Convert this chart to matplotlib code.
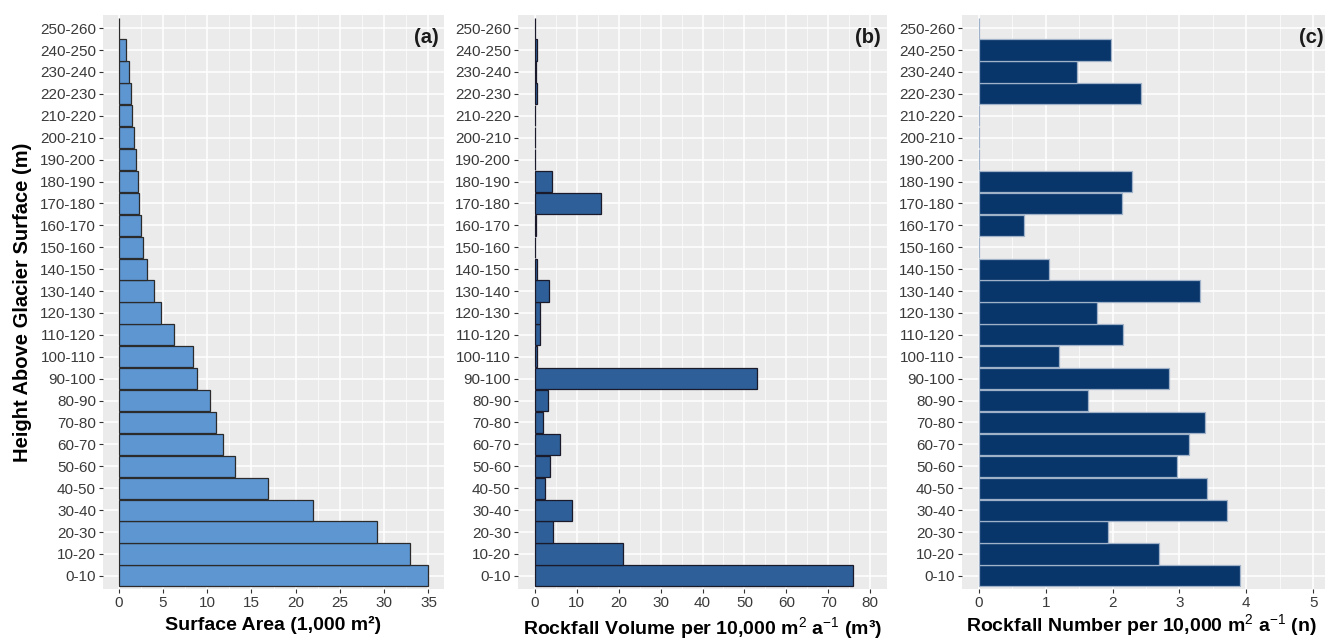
import matplotlib
matplotlib.use("Agg")
import matplotlib.pyplot as plt
import numpy as np
from matplotlib.ticker import MultipleLocator

plt.rcParams['font.family'] = ['Liberation Sans', 'DejaVu Sans']
plt.rcParams['mathtext.fontset'] = 'custom'
plt.rcParams['mathtext.rm'] = 'Liberation Sans'
plt.rcParams['mathtext.it'] = 'Liberation Sans'
plt.rcParams['mathtext.bf'] = 'Liberation Sans:bold'

# height bands above glacier surface (m), bottom to top
bands = ["0-10", "10-20", "20-30", "30-40", "40-50", "50-60", "60-70", "70-80",
         "80-90", "90-100", "100-110", "110-120", "120-130", "130-140", "140-150",
         "150-160", "160-170", "170-180", "180-190", "190-200", "200-210",
         "210-220", "220-230", "230-240", "240-250", "250-260"]

# (a) surface area, 1,000 m2
surface_area = [34.9, 32.95, 29.2, 22.0, 16.9, 13.1, 11.8, 11.0, 10.35, 8.9, 8.4,
                6.25, 4.8, 4.05, 3.2, 2.75, 2.5, 2.3, 2.2, 1.95, 1.75, 1.55, 1.4,
                1.15, 0.87, 0.05]

# (b) rockfall volume per 10,000 m2 a-1 (m3)
rockfall_volume = [75.9, 21.1, 4.3, 8.9, 2.55, 3.75, 6.05, 1.9, 3.1, 52.9, 0.55,
                   1.2, 1.2, 3.4, 0.45, 0.1, 0.3, 15.8, 4.1, 0.05, 0.1, 0.1, 0.6,
                   0.2, 0.6, 0.05]

# (c) rockfall number per 10,000 m2 a-1 (n)
rockfall_number = [3.9, 2.7, 1.93, 3.71, 3.41, 2.97, 3.15, 3.38, 1.63, 2.85, 1.2,
                   2.15, 1.77, 3.31, 1.05, 0.0, 0.68, 2.14, 2.29, 0.0, 0.0, 0.0,
                   2.43, 1.47, 1.97, 0.0]

W, H = 1325, 642
fig = plt.figure(figsize=(W / 100, H / 100), dpi=100)
fig.patch.set_facecolor('white')

top, bottom = 15, 589


def panel(left_px, right_px, values, fill, edge, xlim, step, xlabel, tag):
    ax = fig.add_axes([left_px / W, 1 - bottom / H,
                       (right_px - left_px) / W, (bottom - top) / H])
    ax.set_facecolor('#EBEBEB')
    y = np.arange(len(bands))
    ax.barh(y, values, height=0.97, color=fill, edgecolor=edge, linewidth=0.9,
            zorder=3)
    ax.set_yticks(y)
    ax.set_yticklabels(bands)
    ax.set_ylim(-0.6, len(bands) - 0.4)
    ax.set_xlim(*xlim)
    ax.xaxis.set_major_locator(MultipleLocator(step))
    ax.xaxis.set_minor_locator(MultipleLocator(step / 2))
    ax.grid(which='major', color='white', linewidth=1.1, zorder=0)
    ax.grid(which='minor', axis='x', color='white', linewidth=0.5, zorder=0)
    ax.set_axisbelow(True)
    for s in ax.spines.values():
        s.set_visible(False)
    ax.tick_params(which='major', length=3, width=0.8, color='#333333',
                   labelcolor='#3A3A3A', labelsize=11, pad=2)
    ax.tick_params(which='minor', length=0)
    ax.set_xlabel(xlabel, fontsize=14, fontweight='bold', labelpad=4)
    ax.text(0.948, 0.96, tag, transform=ax.transAxes, ha='center', va='center',
            fontsize=14.5, fontweight='bold', color='#1A1A1A')
    return ax


ax1 = panel(103, 444, surface_area, '#5E96D2', '#2B2B2B', (-1.75, 36.75), 5,
            'Surface Area (1,000 m²)', '(a)')
ax1.set_ylabel('Height Above Glacier Surface (m)', fontsize=14.5,
               fontweight='bold', labelpad=6)

panel(518, 887, rockfall_volume, '#2E5F98', '#1A1A2A', (-4, 84), 10,
      r'Rockfall Volume per 10,000 m$^{2}$ a$^{-1}$ (m³)', '(b)')

ax3 = panel(962, 1330, rockfall_number, '#08366B', '#9FB2C8', (-0.25, 5.25), 1,
            r'Rockfall Number per 10,000 m$^{2}$ a$^{-1}$ (n)', '(c)')
# keep the label inside the figure although the panel runs off the right edge
ax3.xaxis.set_label_coords((1141 - 962) / 368, -0.04, transform=ax3.transAxes)
ax3.xaxis.label.set_va('top')

fig.savefig('out.png', dpi=100)
